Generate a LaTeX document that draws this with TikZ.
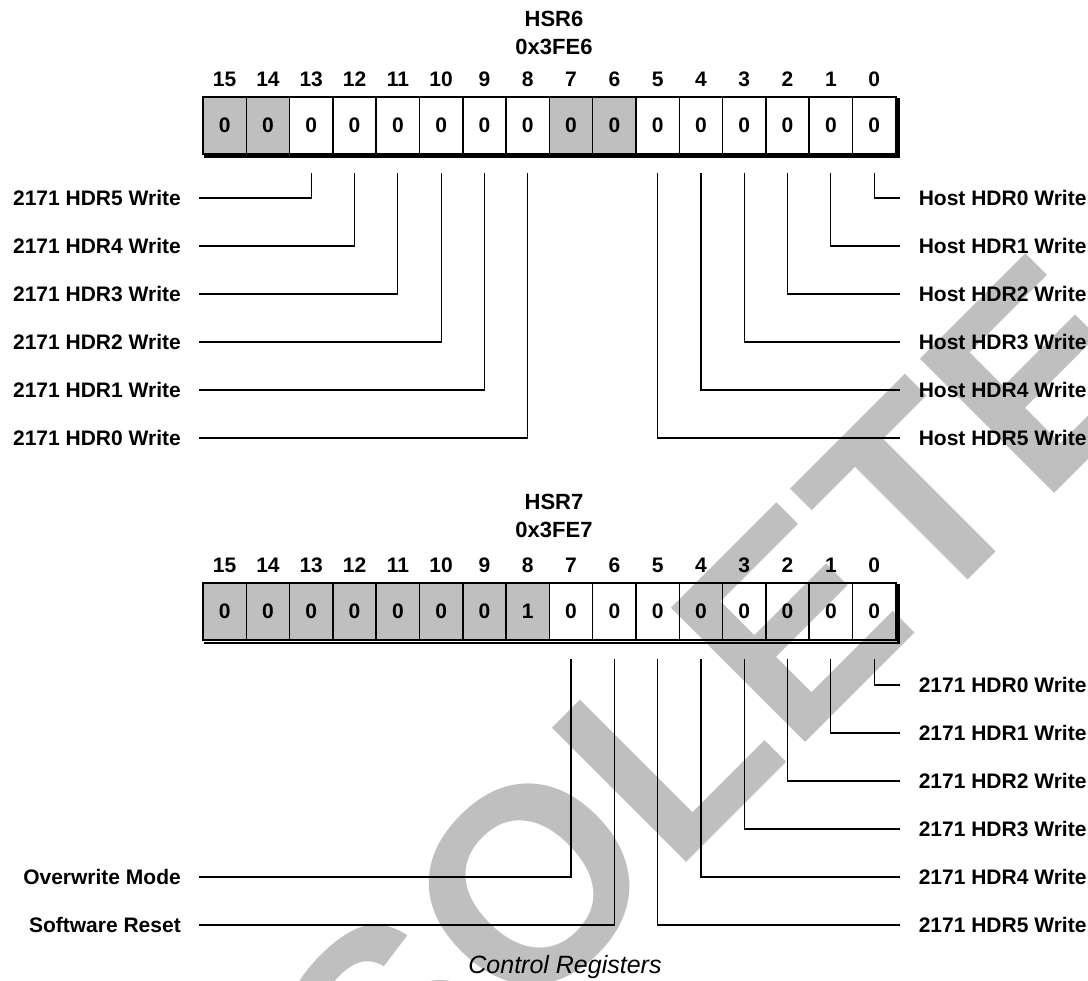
\documentclass[tikz,border=0pt]{standalone}
\usepackage{fontspec}
\setmainfont{Liberation Sans}
\usetikzlibrary{backgrounds,positioning}
\tikzset{
    bitcell/.style={draw, line width=1.5pt, minimum width=43.3pt, minimum height=57pt, inner sep=0pt, font=\fontsize{21}{25}\selectfont\bfseries},
    bitnum/.style={inner sep=0pt, font=\fontsize{21}{25}\selectfont\bfseries},
    regtitle/.style={inner sep=0pt, font=\fontsize{22}{26}\selectfont\bfseries},
    fieldl/.style={anchor=east, inner sep=0pt, font=\fontsize{21}{25}\selectfont\bfseries},
    fieldr/.style={anchor=west, inner sep=0pt, font=\fontsize{21}{25}\selectfont\bfseries},
    wire/.style={line width=1.2pt},
    shade/.style={line width=2.5pt},
    obsmark/.style={rotate=45, inner sep=0pt, text=gray!50, font=\fontsize{276}{276}\selectfont\bfseries},
}

\begin{document}
\begin{tikzpicture}[x=1pt, y=-1pt]
    \useasboundingbox (0,0) rectangle (1088,981);

    \node[regtitle] (t6) at (554,19) {HSR6};
    \node[regtitle] (a6) at (554,47) {0x3FE6};
    \foreach \b in {0,...,15} {
        \node[bitcell] (top\b) at ({224.65+43.3*(15-\b)},125.5) {0};
        \node[bitnum] (tn\b) at ({224.65+43.3*(15-\b)},79) {\b};
    }

    \node[regtitle] (t7) at (554,502) {HSR7};
    \node[regtitle] (a7) at (554,530) {0x3FE7};
    \foreach \b in {0,...,15} {
        \node[bitcell] (bot\b) at ({224.65+43.3*(15-\b)},611.5) {\ifnum\b=8 1\else 0\fi};
        \node[bitnum] (bn\b) at ({224.65+43.3*(15-\b)},565) {\b};
    }

    \begin{scope}[on background layer]
        \node[obsmark] (wm) at (568,846) {OBSOLETE};
        \fill[gray!50] (top15.north west) rectangle (top14.south east);
        \fill[gray!50] (top7.north west) rectangle (top6.south east);
        \fill[gray!50] (bot15.north west) rectangle (bot8.south east);
    \end{scope}
    \draw[shade] ([shift={(2pt,-2pt)}]top15.south west) -| ([shift={(2pt,-2pt)}]top0.north east);
    \draw[shade] ([shift={(2pt,-2pt)}]bot15.south west) -| ([shift={(2pt,-2pt)}]bot0.north east);

    \foreach \b/\r/\h in {13/0/5, 12/1/4, 11/2/3, 10/3/2, 9/4/1, 8/5/0} {
        \node[fieldl] (tl\r) at (181,198+48*\r) {2171 HDR\h\ Write};
        \draw[wire] ([xshift=18pt]tl\r.east) -| ([yshift=-18pt]top\b.south);
    }
    \foreach \b in {0,...,5} {
        \node[fieldr] (tr\b) at (918.6,198+48*\b) {Host HDR\b\ Write};
        \draw[wire] ([yshift=-18pt]top\b.south) |- ([xshift=-18.6pt]tr\b.west);
    }

    \foreach \b in {0,...,5} {
        \node[fieldr] (br\b) at (918.6,685+48*\b) {2171 HDR\b\ Write};
        \draw[wire] ([yshift=-18pt]bot\b.south) |- ([xshift=-18.6pt]br\b.west);
    }
    \node[fieldl] (bl4) at (181,877) {Overwrite Mode};
    \node[fieldl] (bl5) at (181,925) {Software Reset};
    \draw[wire] ([xshift=18pt]bl4.east) -| ([yshift=-18pt]bot7.south);
    \draw[wire] ([xshift=18pt]bl5.east) -| ([yshift=-18pt]bot6.south);

    \node[anchor=base, inner sep=0pt, font=\fontsize{25}{29}\selectfont\itshape] (cap) at (565,973) {Control Registers};

\end{tikzpicture}
\end{document}
